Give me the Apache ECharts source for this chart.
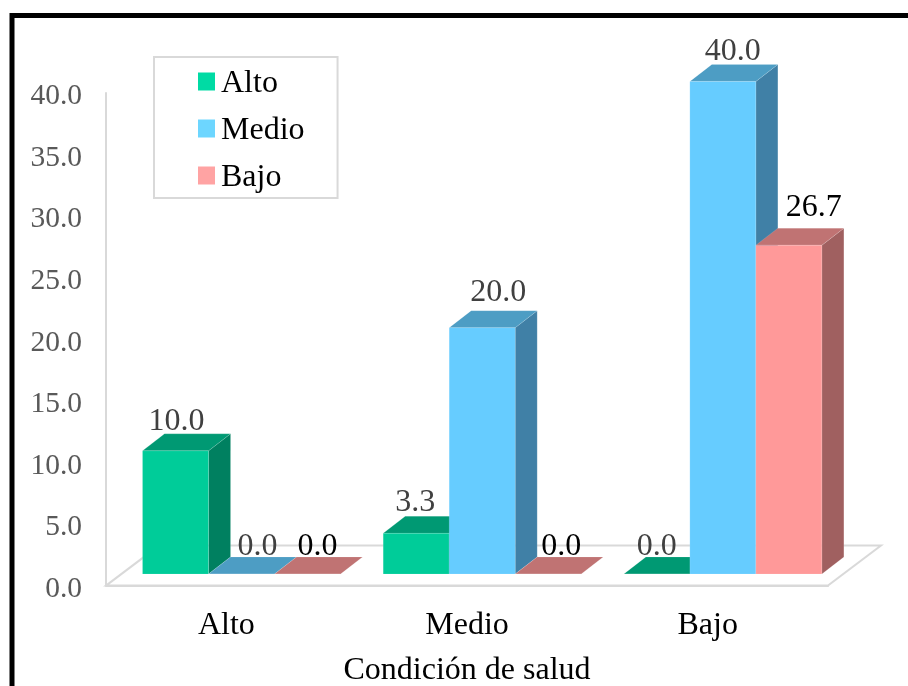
<!DOCTYPE html>
<html>
<head>
<meta charset="utf-8">
<style>html,body{margin:0;padding:0;background:#fff}#chart{width:908px;height:686px}</style>
<script src="https://cdn.jsdelivr.net/npm/echarts@6/dist/echarts.min.js"></script>
</head>
<body>
<div id="chart"></div>
<script>
// Condición de salud: grouped percentages per category
const categories = ['Alto', 'Medio', 'Bajo'];
const serieAlto = [10.0, 3.3, 0.0];
const serieMedio = [0.0, 20.0, 40.0];
const serieBajo = [0.0, 0.0, 26.7];
const yTicks = { min: 0, max: 40, interval: 5 };

// Hand placement of the value labels: [shift right, lift above the back edge]
const nudgeAlto = [[1, 12], [-1, 13.5], [0, 10]];
const nudgeMedio = [[16, 10], [16, 18], [10, 12.5]];
const nudgeBajo = [[10, 10], [13, 10], [25, 21]];

const SERIF = '"Liberation Serif", "Times New Roman", serif';
const BAR_SHARE = 66 / 240.67;
const BAR_DEPTH = { x: 22, y: -17 };
const FLOOR_DEPTH = { x: 53, y: -40 };
const PLANE_SHIFT = { x: 15.2, y: -11.6 };
const LINE_GREY = '#d9d9d9';

function barRenderer(slot, look, nudges) {
  return function (params, api) {
    const i = api.value(0);
    const value = api.value(1);
    const base = api.coord([i, 0]);
    const top = api.coord([i, value]);
    const w = api.size([1, 0])[0] * BAR_SHARE;
    const x0 = base[0] + PLANE_SHIFT.x + (slot - 1.5) * w;
    const x1 = x0 + w;
    const yb = base[1] + PLANE_SHIFT.y;
    const yt = top[1] + PLANE_SHIFT.y;
    const dx = BAR_DEPTH.x, dy = BAR_DEPTH.y;
    const edge = { stroke: look.edge, lineWidth: 1 };
    const nudge = nudges[i];
    return {
      type: 'group',
      children: [
        { type: 'polygon', shape: { points: [[x1, yt], [x1 + dx, yt + dy], [x1 + dx, yb + dy], [x1, yb]] },
          style: Object.assign({ fill: look.side }, edge) },
        { type: 'polygon', shape: { points: [[x0, yt], [x0 + dx, yt + dy], [x1 + dx, yt + dy], [x1, yt]] },
          style: Object.assign({ fill: look.top }, edge) },
        { type: 'rect', shape: { x: x0, y: yt, width: w, height: yb - yt },
          style: Object.assign({ fill: look.front }, edge) },
        { type: 'text', z2: 10,
          style: { text: value.toFixed(1), x: (x0 + x1) / 2 + nudge[0], y: yt + dy - nudge[1],
                   fill: look.label, font: '32px ' + SERIF, align: 'center', verticalAlign: 'middle' } }
      ]
    };
  };
}

function barSeries(name, values, slot, look, nudges) {
  return {
    name, type: 'custom', coordinateSystem: 'cartesian2d',
    itemStyle: { color: look.front },
    encode: { x: 0, y: 1 },
    data: values.map((v, i) => [i, v]),
    renderItem: barRenderer(slot, look, nudges),
    silent: true
  };
}

// Floor plane behind the bars, derived from the plotting area
const floorSeries = {
  type: 'custom', coordinateSystem: 'cartesian2d', silent: true, z: 1,
  data: [[0, 0]],
  renderItem: function (params) {
    const c = params.coordSys;
    const l = c.x, r = c.x + c.width, b = c.y + c.height;
    return {
      type: 'polygon',
      shape: { points: [[l, b], [l + FLOOR_DEPTH.x, b + FLOOR_DEPTH.y], [r + FLOOR_DEPTH.x, b + FLOOR_DEPTH.y], [r, b]] },
      style: { fill: '#fff', stroke: LINE_GREY, lineWidth: 2 }
    };
  }
};

const chart = echarts.init(document.getElementById('chart'), null, { renderer: 'canvas' });
chart.setOption({
  animation: false,
  backgroundColor: '#fff',
  textStyle: { fontFamily: SERIF },
  grid: { left: 106, right: 80, top: 93, bottom: 100.4, outerBoundsMode: 'none' },
  legend: {
    left: 154, top: 57, orient: 'vertical', selectedMode: false,
    icon: 'rect', itemWidth: 17, itemHeight: 18, itemGap: 15,
    padding: [11, 33, 4, 44],
    backgroundColor: '#fff', borderColor: LINE_GREY, borderWidth: 2,
    formatter: '{t|{name}}',
    textStyle: {
      rich: { t: { fontFamily: SERIF, fontSize: 32, color: '#000', padding: [5, 0, 0, 1] } }
    },
    data: [
      { name: 'Alto', itemStyle: { color: '#00dba4' } },
      { name: 'Medio', itemStyle: { color: '#6dd6ff' } },
      { name: 'Bajo', itemStyle: { color: '#ffa3a3' } }
    ]
  },
  xAxis: {
    type: 'category', data: categories,
    name: 'Condición de salud', nameLocation: 'middle', nameGap: 69,
    nameTextStyle: { fontFamily: SERIF, fontSize: 32, color: '#000' },
    axisTick: { show: false },
    axisLine: { show: true, lineStyle: { color: LINE_GREY, width: 2 } },
    axisLabel: { fontFamily: SERIF, fontSize: 32, color: '#000', margin: 24 }
  },
  yAxis: {
    type: 'value', min: yTicks.min, max: yTicks.max, interval: yTicks.interval,
    axisTick: { show: false }, splitLine: { show: false },
    axisLine: { show: true, lineStyle: { color: LINE_GREY, width: 2 } },
    axisLabel: { fontFamily: SERIF, fontSize: 29.5, color: '#595959', margin: 24,
                 verticalAlign: 'top', lineHeight: 7,
                 formatter: v => v.toFixed(1) }
  },
  graphic: [{
    type: 'polyline', z: 100, silent: true,
    shape: { points: [[12, 700], [12, 15.5], [920, 15.5]] },
    style: { fill: 'none', stroke: '#000', lineWidth: 5 }
  }],
  series: [
    floorSeries,
    barSeries('Alto', serieAlto, 0, { front: '#00cc99', top: '#009973', side: '#008060', edge: 'rgba(255,255,255,0.12)', label: '#404040' }, nudgeAlto),
    barSeries('Medio', serieMedio, 1, { front: '#66ccff', top: '#4d9dc4', side: '#4080a6', edge: 'rgba(255,255,255,0.12)', label: '#404040' }, nudgeMedio),
    barSeries('Bajo', serieBajo, 2, { front: '#ff9999', top: '#c07373', side: '#a06060', edge: 'rgba(255,255,255,0.12)', label: '#000000' }, nudgeBajo)
  ]
});
</script>
</body>
</html>
